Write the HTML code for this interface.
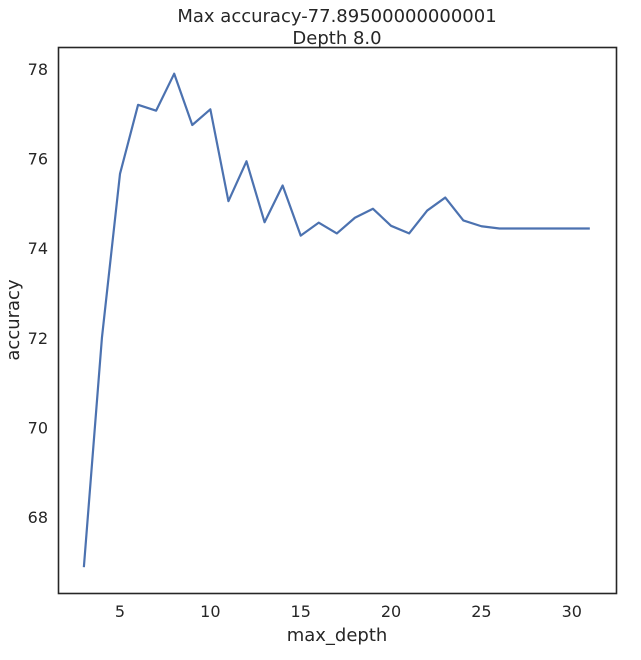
<!DOCTYPE html>
<html><head><meta charset="utf-8"><style>
body{margin:0;background:#fff;}
svg text{font-family:"DejaVu Sans","Liberation Sans",sans-serif;fill:#262626;}
</style></head><body>
<svg id="chart" width="641" height="655">
<text x="337" y="22" text-anchor="middle" font-size="18">Max accuracy-77.89500000000001</text>
<text x="337" y="44" text-anchor="middle" font-size="18">Depth 8.0</text>
<g id="xticks"></g><g id="yticks"></g>
<path id="line" fill="none" stroke="#4c72b0" stroke-width="2.2" stroke-linejoin="round"/>
<rect x="58.5" y="47.5" width="558" height="546" fill="none" stroke="#262626" stroke-width="1.6"/>
<text x="337" y="641" text-anchor="middle" font-size="18">max_depth</text>
<text transform="translate(19,320) rotate(-90)" text-anchor="middle" font-size="18">accuracy</text>
</svg>
<script>
const depths=[3,4,5,6,7,8,9,10,11,12,13,14,15,16,17,18,19,20,21,22,23,24,25,26,27,28,29,30,31];
const accuracy=[66.88,72.0,75.66,77.2,77.07,77.895,76.75,77.1,75.05,75.94,74.58,75.4,74.28,74.57,74.33,74.68,74.88,74.5,74.33,74.84,75.13,74.62,74.49,74.44,74.44,74.44,74.44,74.44,74.44];
const xTicks=[5,10,15,20,25,30];
const yTicks=[68,70,72,74,76,78];
const xs=v=>120+(v-5)*18.07;
const ys=v=>69+(78-v)*44.8;
const ns='http://www.w3.org/2000/svg';
const xg=document.getElementById('xticks'),yg=document.getElementById('yticks');
xTicks.forEach(t=>{const e=document.createElementNS(ns,'text');
e.setAttribute('x',xs(t));e.setAttribute('y',617);e.setAttribute('text-anchor','middle');e.setAttribute('font-size','16');


e.textContent=t;xg.appendChild(e);});
yTicks.forEach(t=>{const e=document.createElementNS(ns,'text');
e.setAttribute('x',48);e.setAttribute('y',ys(t)+6);e.setAttribute('text-anchor','end');e.setAttribute('font-size','16');


e.textContent=t;yg.appendChild(e);});
document.getElementById('line').setAttribute('d',depths.map((d,i)=>(i?'L':'M')+xs(d)+','+ys(accuracy[i])).join(''));
</script>
</body></html>
